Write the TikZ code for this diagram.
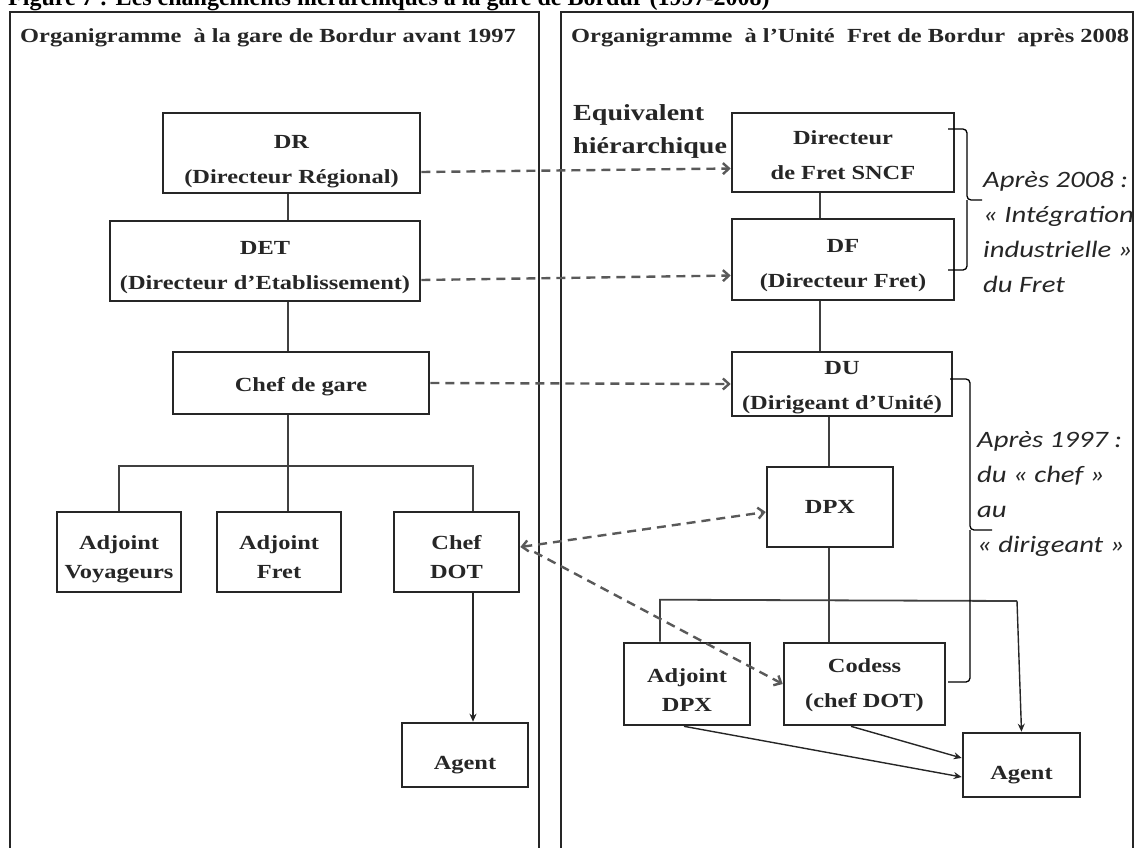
\documentclass[tikz,border=0pt]{standalone}
\usepackage{fontspec}
\setmainfont{Liberation Serif}[FakeStretch=1.22]
\newfontfamily\notefont{Carlito}[FakeStretch=1.22]
\newfontfamily\captionfont{Liberation Serif}
\usetikzlibrary{arrows.meta}
\newcommand{\lifttxt}[1]{\rule{0pt}{#1pt}}

\begin{document}
\begin{tikzpicture}[x=1pt,y=-1pt,>={Straight Barb[length=6pt,width=11pt]},
  box/.style={draw=black!85,line width=2.6pt,inner sep=0pt,align=center,text=black!85,font=\bfseries\fontsize{20}{35}\selectfont},
  adj/.style={box,font=\bfseries\fontsize{20}{29}\selectfont},
  link/.style={line width=1.8pt,draw=black!75},
  eqv/.style={line width=2.4pt,draw=black!65,dash pattern=on 9pt off 6pt},
  down/.style={line width=1.4pt,draw=black!85,-{Stealth[length=8pt,width=7pt]}},
  brk/.style={line width=1.3pt,rounded corners=4pt},
  panel/.style={line width=2.8pt,draw=black!85},
  head/.style={anchor=base west,inner sep=0pt,text=black!85,font=\bfseries\fontsize{20}{24}\selectfont},
  note/.style={anchor=north west,inner sep=0pt,align=left,text=black!85,font=\notefont\itshape\fontsize{23.5}{35}\selectfont}]
  \useasboundingbox (0,0) rectangle (1137,847);
  % cadres
  \draw[panel] (10,12) rectangle (539,900);
  \draw[panel] (561,12) rectangle (1133,900);
  \node[anchor=base west,inner sep=0pt,font=\captionfont\bfseries\fontsize{24}{28}\selectfont] (titre) at (8,5)
    {Figure 7 : Les changements hiérarchiques à la gare de Bordur (1997-2008)};
  \node[head] (avant) at (20,42) {Organigramme\ \ à la gare de Bordur avant 1997};
  \node[head] (apres) at (571,42) {Organigramme\ \ à l’Unité\ \ Fret de Bordur\ \ après 2008};

  % avant 1997
  \node[box,minimum width=257pt,minimum height=80pt] (DR) at (291.5,153) {\lifttxt{31}DR\\(Directeur Régional)};
  \node[box,minimum width=310pt,minimum height=80pt] (DET) at (265,261) {\lifttxt{27}DET\\(Directeur d’Etablissement)};
  \node[box,minimum width=256pt,minimum height=62pt] (ChefG) at (301,383) {\lifttxt{22}Chef de gare};
  \node[adj,minimum width=124pt,minimum height=80pt] (AdjVoy) at (119,552) {\lifttxt{29}Adjoint\\Voyageurs};
  \node[adj,minimum width=124pt,minimum height=80pt] (AdjFret) at (279,552) {\lifttxt{25}Adjoint\\Fret};
  \node[adj,minimum width=125pt,minimum height=80pt] (ChefDOT) at (456.5,552) {\lifttxt{25}Chef\\DOT};
  \node[box,minimum width=126pt,minimum height=64pt] (AgentL) at (465,755) {\lifttxt{34}Agent};

  % apres 2008
  \node[anchor=north west,inner sep=0pt,align=left,text=black!85,font=\bfseries\fontsize{23}{33}\selectfont] (equiv) at (573,104)
    {Equivalent\\hiérarchique};
  \node[box,minimum width=222pt,minimum height=79pt] (Directeur) at (843,152.5) {\lifttxt{20}Directeur\\de Fret SNCF};
  \node[box,minimum width=222pt,minimum height=81pt] (DF) at (843,259.5) {\lifttxt{26}DF\\(Directeur Fret)};
  \node[box,minimum width=220pt,minimum height=64pt] (DU) at (842,384) {\lifttxt{21}DU\\(Dirigeant d’Unité)};
  \node[box,minimum width=126pt,minimum height=80pt] (DPX) at (830,507) {DPX};
  \node[adj,minimum width=126pt,minimum height=82pt] (AdjDPX) at (687,684) {\lifttxt{27}Adjoint\\DPX};
  \node[box,minimum width=161pt,minimum height=82pt] (Codess) at (864.5,684) {\lifttxt{16}Codess\\(chef DOT)};
  \node[box,minimum width=117pt,minimum height=64pt] (AgentR) at (1021.5,765) {\lifttxt{34}Agent};

  \node[note] (int) at (983,171) {Après 2008 :\\« Intégration\\industrielle »\\du Fret};
  \node[note] (dirig) at (977,431) {Après 1997 :\\du « chef »\\au\\« dirigeant »};

  % liens hierarchiques
  \coordinate (lspine) at (288,0);
  \coordinate (rspine) at (820,0);
  \coordinate (dspine) at (829,0);
  \draw[link] (DR.south -| lspine) -- (DET.north -| lspine);
  \draw[link] (DET.south -| lspine) -- (ChefG.north -| lspine);
  \draw[link] (ChefG.south -| lspine) -- (AdjFret.north -| lspine);
  \draw[link] (AdjVoy.north) -- ++(0,-45) -| ([xshift=16.5pt]ChefDOT.north);
  \draw[down] ([xshift=16.5pt]ChefDOT.south) -- ([xshift=16.5pt]ChefDOT.south |- AgentL.north);

  \draw[link] (Directeur.south -| rspine) -- (DF.north -| rspine);
  \draw[link] (DF.south -| rspine) -- (DU.north -| rspine);
  \draw[link] (DU.south -| dspine) -- (DPX.north -| dspine);
  \draw[link] (DPX.south -| dspine) -- (Codess.north -| dspine);
  \draw[link] ([xshift=-27pt]AdjDPX.north) -- ++(0,-42) -- (1017,601);
  \draw[down] (1017,601) -- (AgentR.north);
  \draw[down] ([xshift=-3pt]AdjDPX.south) -- ([yshift=-12pt]AgentR.west);
  \draw[down] ([xshift=-13.5pt]Codess.south) -- ([yshift=7pt]AgentR.west);

  % equivalences
  \draw[eqv,->] ([yshift=-19pt]DR.east) -- ([yshift=-16pt]Directeur.west);
  \draw[eqv,->] ([yshift=-19pt]DET.east) -- ([yshift=-16pt]DF.west);
  \draw[eqv,->] (ChefG.east) -- (DU.west);
  \draw[eqv,<->] ([yshift=5pt]ChefDOT.east) -- ([yshift=-5pt]DPX.west);
  \draw[eqv,->] ([xshift=14pt]ChefDOT.east) -- (Codess.west);

  % accolades
  \draw[brk] (948,129) -| (967,200) -- (982,200);
  \draw[brk] (967,200) |- (948,270);
  \draw[brk] (950,379) -| (970,530) -- (992,530);
  \draw[brk] (970,530) |- (948,682);
\end{tikzpicture}
\end{document}
